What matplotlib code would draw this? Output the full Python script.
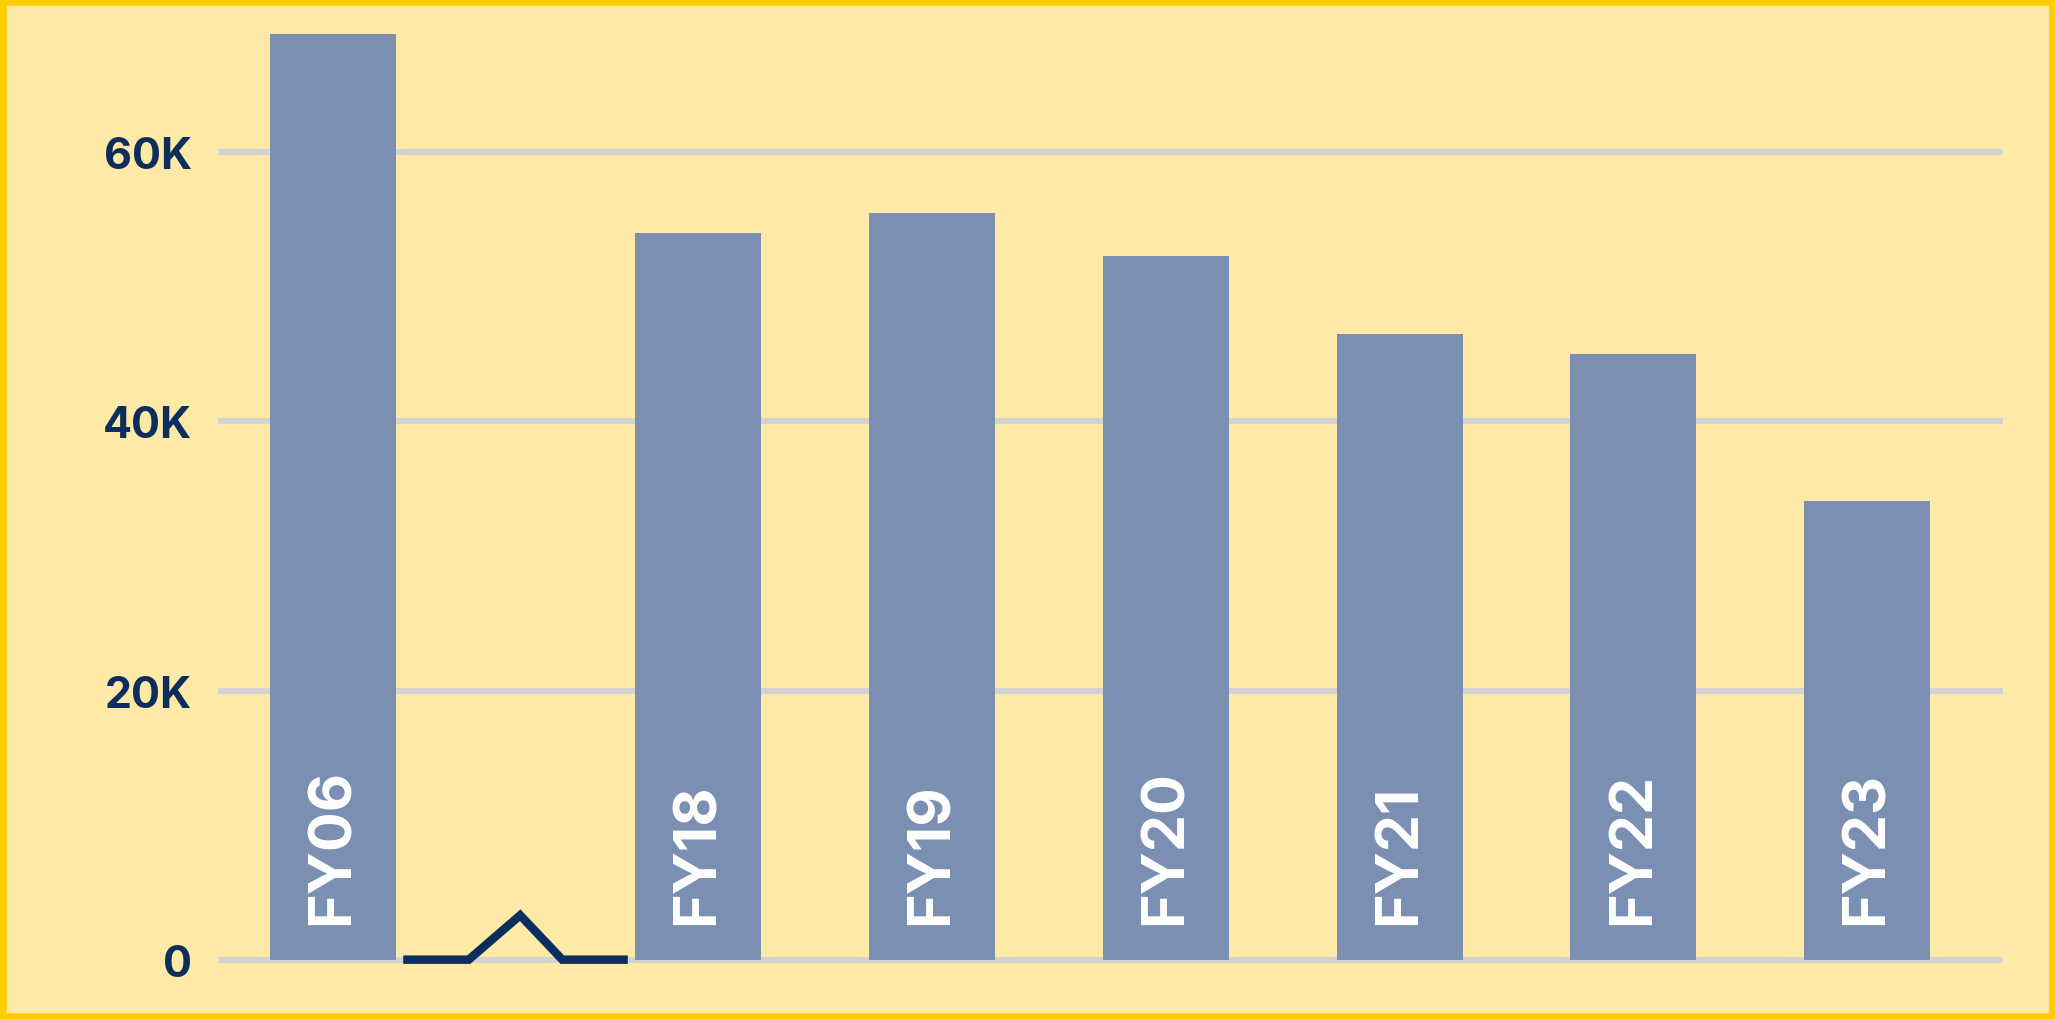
import numpy as np
import matplotlib
matplotlib.use("Agg")
from matplotlib import pyplot as plt
from matplotlib.patches import Rectangle

# data
years = ["FY06", "FY18", "FY19", "FY20", "FY21", "FY22", "FY23"]
values = [68800, 54000, 55500, 52300, 46500, 45000, 34100]
yticks = [0, 20000, 40000, 60000]
ytick_labels = ["0", "20K", "40K", "60K"]

bg = "#FEE9A6"
bar_color = "#7B8FB2"
navy = "#0C2E5C"
grid_color = "#D3D3D3"
gold = "#FFCC00"

plt.rcParams["font.family"] = ["Inter", "DejaVu Sans"]

# leave a wider gap after FY06 for the axis-break mark
gap = 1.56
x = np.arange(len(years), dtype=float)
x[1:] += gap - 1

fig = plt.figure(figsize=(20.55, 10.2), dpi=100, facecolor=bg)
ax = fig.add_axes([218 / 2055, 0.0318, (2003 - 218) / 2055, 0.9498])
ax.set_facecolor(bg)

ax.bar(x, values, width=0.539, color=bar_color, zorder=2)

for xi, name in zip(x, years):
    ax.text(xi, 2650, name, rotation=90, ha="center", va="bottom",
            color="white", fontsize=42.5, fontweight="bold", zorder=3)

# axis-break zigzag between FY06 and FY18
mid = (x[0] + x[1]) / 2
bx = mid + np.array([-0.48, -0.2, 0.02, 0.2, 0.48])
by = np.array([0, 0, 3300, 0, 0])
ax.plot(bx, by, color=navy, lw=6.1, solid_joinstyle="miter",
        solid_capstyle="butt", zorder=4)

ax.set_xlim(-0.492, 7.14)
ax.set_ylim(-2000, 70000)
ax.set_yticks(yticks)
ax.set_yticklabels(ytick_labels)
ax.set_xticks([])
ax.tick_params(axis="y", length=0, pad=18.5, labelsize=31, labelcolor=navy)
for lab in ax.get_yticklabels():
    lab.set_fontweight("bold")
ax.yaxis.grid(True, color=grid_color, lw=4.3, zorder=0)
ax.set_axisbelow(True)
for s in ax.spines.values():
    s.set_visible(False)

fig.patches.append(Rectangle((0, 0), 1, 1, transform=fig.transFigure,
                             fill=False, edgecolor=gold, lw=9, zorder=10))

fig.savefig("out.png", dpi=100, facecolor=bg)
